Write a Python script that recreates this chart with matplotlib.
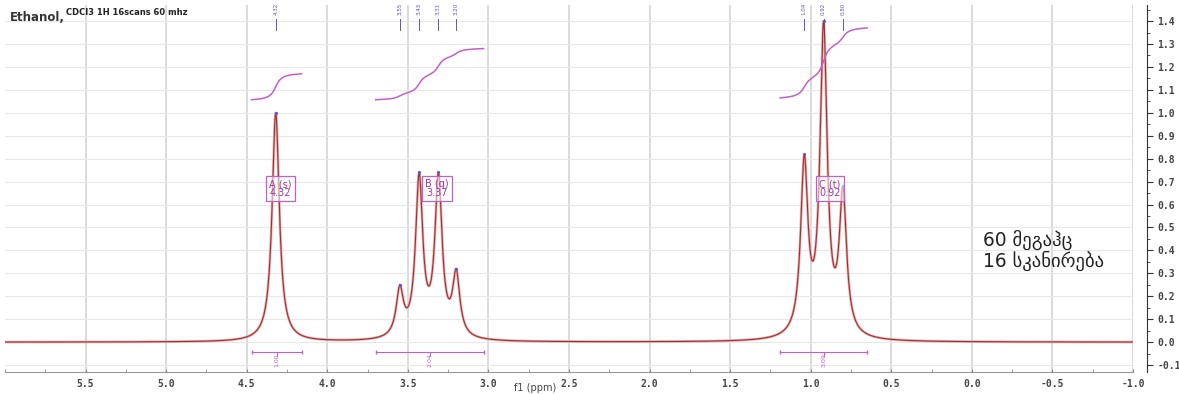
import numpy as np
import matplotlib.pyplot as plt
from matplotlib.ticker import MultipleLocator, FormatStrFormatter

# peak picks (ppm) and observed heights
peak_ppm = [4.32, 3.55, 3.43, 3.31, 3.20, 1.04, 0.92, 0.80]
peak_height = [1.00, 0.25, 0.74, 0.74, 0.32, 0.82, 1.40, 0.68]
line_hwhm = 0.027

# multiplets: label, shift, integration range, integral, box position
mult_names = ['A (s)', 'B (q)', 'C (t)']
mult_shift = [4.32, 3.37, 0.92]
mult_box_x = [4.29, 3.32, 0.88]
integ_from = [4.47, 3.70, 1.19]
integ_to = [4.16, 3.03, 0.65]
integ_value = ['1.00', '2.04', '3.09']
integ_start = [1.057, 1.057, 1.065]
integ_end = [1.17, 1.28, 1.37]


def lorentz(x, x0, g):
    return g**2 / ((x - x0)**2 + g**2)


# solve amplitudes so the summed curve hits the picked heights
pos = np.array(peak_ppm)
M = lorentz(pos[:, None], pos[None, :], line_hwhm)
amps = np.linalg.solve(M, np.array(peak_height))

ppm = np.linspace(6.0, -1.0, 14000)
spec = sum(a * lorentz(ppm, p, line_hwhm) for a, p in zip(amps, peak_ppm))

fig = plt.figure(figsize=(11.79, 3.94), dpi=100)
ax = fig.add_axes([5/1179, 22/394, 1128/1179, 367/394])
ax.set_xlim(6.0, -1.0)
ax.set_ylim(-0.13, 1.47)

for v in np.arange(5.5, -1.01, -0.5):
    ax.axvline(v, color='#dadada', lw=1.4, zorder=0)
for h in np.arange(-0.1, 1.41, 0.1):
    ax.axhline(h, color='#e8e8e8', lw=0.8, zorder=0)

ax.plot(ppm, spec, color='#e6b0b0', lw=1.9, zorder=2, solid_capstyle='round')
ax.plot(ppm, spec, color='#9e2f33', lw=0.8, zorder=3)
ax.scatter(peak_ppm, peak_height, s=1.5, color='#5a5ad0', zorder=4)

# integral curves
for lo, hi, y0, y1 in zip(integ_from, integ_to, integ_start, integ_end):
    m = (ppm <= lo) & (ppm >= hi)
    c = np.cumsum(spec[m])
    c = (c - c[0]) / (c[-1] - c[0])
    ax.plot(ppm[m], y0 + c * (y1 - y0), color='#c060c8', lw=1.1, zorder=3)

# integration brackets and values
for lo, hi, val in zip(integ_from, integ_to, integ_value):
    mid = (lo + hi) / 2
    ax.plot([lo, hi], [-0.043, -0.043], color='#c060c8', lw=0.8,
            marker='|', ms=3, zorder=3)
    ax.plot([mid, mid], [-0.043, -0.06], color='#c060c8', lw=0.8)
    ax.text(mid, -0.078, val, rotation=90, fontsize=4.5, color='#c060c8',
            ha='center', va='center')

# multiplet boxes
for name, sh, bx in zip(mult_names, mult_shift, mult_box_x):
    ax.text(bx, 0.67, f'{name}\n{sh:.2f}', fontsize=7, color='#a03aa8',
            ha='center', va='center', linespacing=0.85, zorder=5,
            bbox=dict(boxstyle='square,pad=0.3', fc=(1, 1, 1, 0.55),
                      ec='#c060c8', lw=0.9))

# peak pick labels along the top
for p in peak_ppm:
    ax.text(p, 1.425, f'{p:.2f}', rotation=90, fontsize=4, color='#5a5ab0',
            ha='center', va='bottom', zorder=5)
    ax.plot([p, p], [1.36, 1.41], color='#5a5ab0', lw=0.7)

ax.text(0.004, 0.985, 'Ethanol,', transform=ax.transAxes, fontsize=8.5,
        color='#333333', ha='left', va='top', fontweight='bold')
ax.text(0.054, 0.992, 'CDCl3 1H 16scans 60 mhz', transform=ax.transAxes,
        fontsize=6, color='#222222', ha='left', va='top', fontweight='bold')

ax.text(-0.07, 0.40, '60 მეგაჰც\n16 სკანირება', fontsize=13.4,
        color='#222222', ha='left', va='center', linespacing=1.0,
        family=['DejaVu Sans'])

for s in ['top', 'left']:
    ax.spines[s].set_visible(False)
ax.spines['bottom'].set_color('#999999')
ax.spines['right'].set_position(('outward', 10))
ax.spines['right'].set_color('#333333')

ax.xaxis.set_major_locator(MultipleLocator(0.5))
ax.xaxis.set_minor_locator(MultipleLocator(0.25))
ax.xaxis.set_major_formatter(FormatStrFormatter('%.1f'))
ax.tick_params(axis='x', which='both', direction='in', length=2,
               color='#888888', labelsize=7, labelcolor='#444444', pad=5)
ax.set_xticks(np.arange(5.5, -1.01, -0.5))

ax.yaxis.tick_right()
ax.yaxis.set_major_locator(MultipleLocator(0.1))
ax.yaxis.set_minor_locator(MultipleLocator(0.05))
ax.yaxis.set_major_formatter(FormatStrFormatter('%.1f'))
ax.set_yticks(np.arange(-0.1, 1.41, 0.1))
ax.tick_params(axis='y', which='major', length=4, color='#333333',
               labelsize=7, labelcolor='#444444')
ax.tick_params(axis='y', which='minor', length=2, color='#333333')

for lab in ax.get_xticklabels() + ax.get_yticklabels():
    lab.set_family('DejaVu Sans Mono')
    lab.set_fontweight('bold')

# axis title squeezed under the tick labels
ax.text(0.47, -0.058, 'f1 (ppm)', transform=ax.transAxes, fontsize=7,
        color='#444444', ha='center', va='bottom')

fig.savefig('out.png', dpi=100)
